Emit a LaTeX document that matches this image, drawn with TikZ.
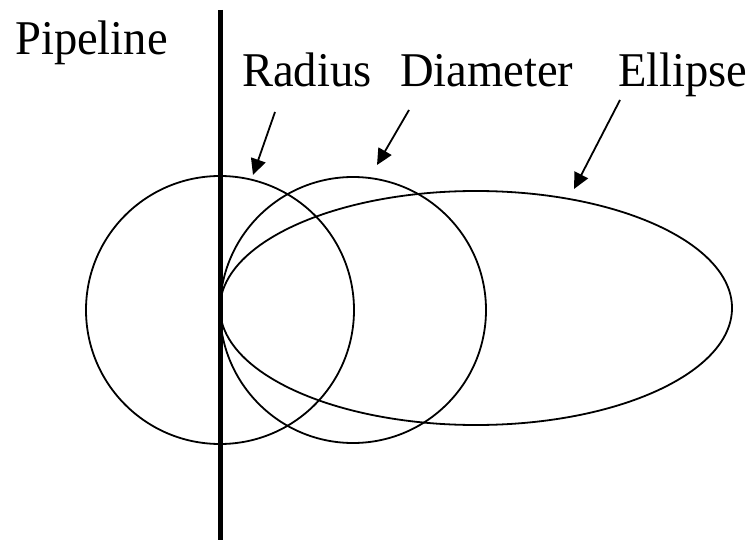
\documentclass[tikz,border=0pt]{standalone}
\usepackage{fontspec}
\setmainfont{Liberation Serif}[FakeStretch=0.96]
\usetikzlibrary{arrows.meta,shapes.geometric}
\begin{document}
\begin{tikzpicture}[x=1bp,y=-1bp,
  lbl/.style={anchor=base west,inner sep=0pt,font=\rmfamily\fontsize{48.5bp}{52bp}\selectfont},
  shp/.style={draw,line width=1.8bp,inner sep=0pt,outer sep=0pt},
  ptr/.style={line width=1.8bp,-{Triangle[length=16bp,width=15bp]}}]
\useasboundingbox (0,0) rectangle (753,540);
% shapes
\node[shp,circle,minimum size=268bp] (rad) at (220,310) {};
\node[shp,circle,minimum size=266bp] (dia) at (353,310) {};
\node[shp,ellipse,minimum width=512bp,minimum height=234bp] (ell) at (476,308) {};
% pipeline
\coordinate (ptop) at (220,10);
\coordinate (pbot) at (220,540);
\draw[line width=5bp] (ptop) -- (pbot);
% labels
\node[lbl] (tpipe) at (15,55) {Pipeline};
\node[lbl] (trad) at (242,87) {Radius};
\node[lbl] (tdia) at (400,87) {Diameter};
\node[lbl] (tell) at (618,87) {Ellipse};
% arrows
\coordinate (a1) at (275,112); \coordinate (b1) at (253,175);
\coordinate (a2) at (409,110); \coordinate (b2) at (377,165);
\coordinate (a3) at (620,100); \coordinate (b3) at (574,189);
\draw[ptr] (a1) -- (b1);
\draw[ptr] (a2) -- (b2);
\draw[ptr] (a3) -- (b3);
\end{tikzpicture}
\end{document}
